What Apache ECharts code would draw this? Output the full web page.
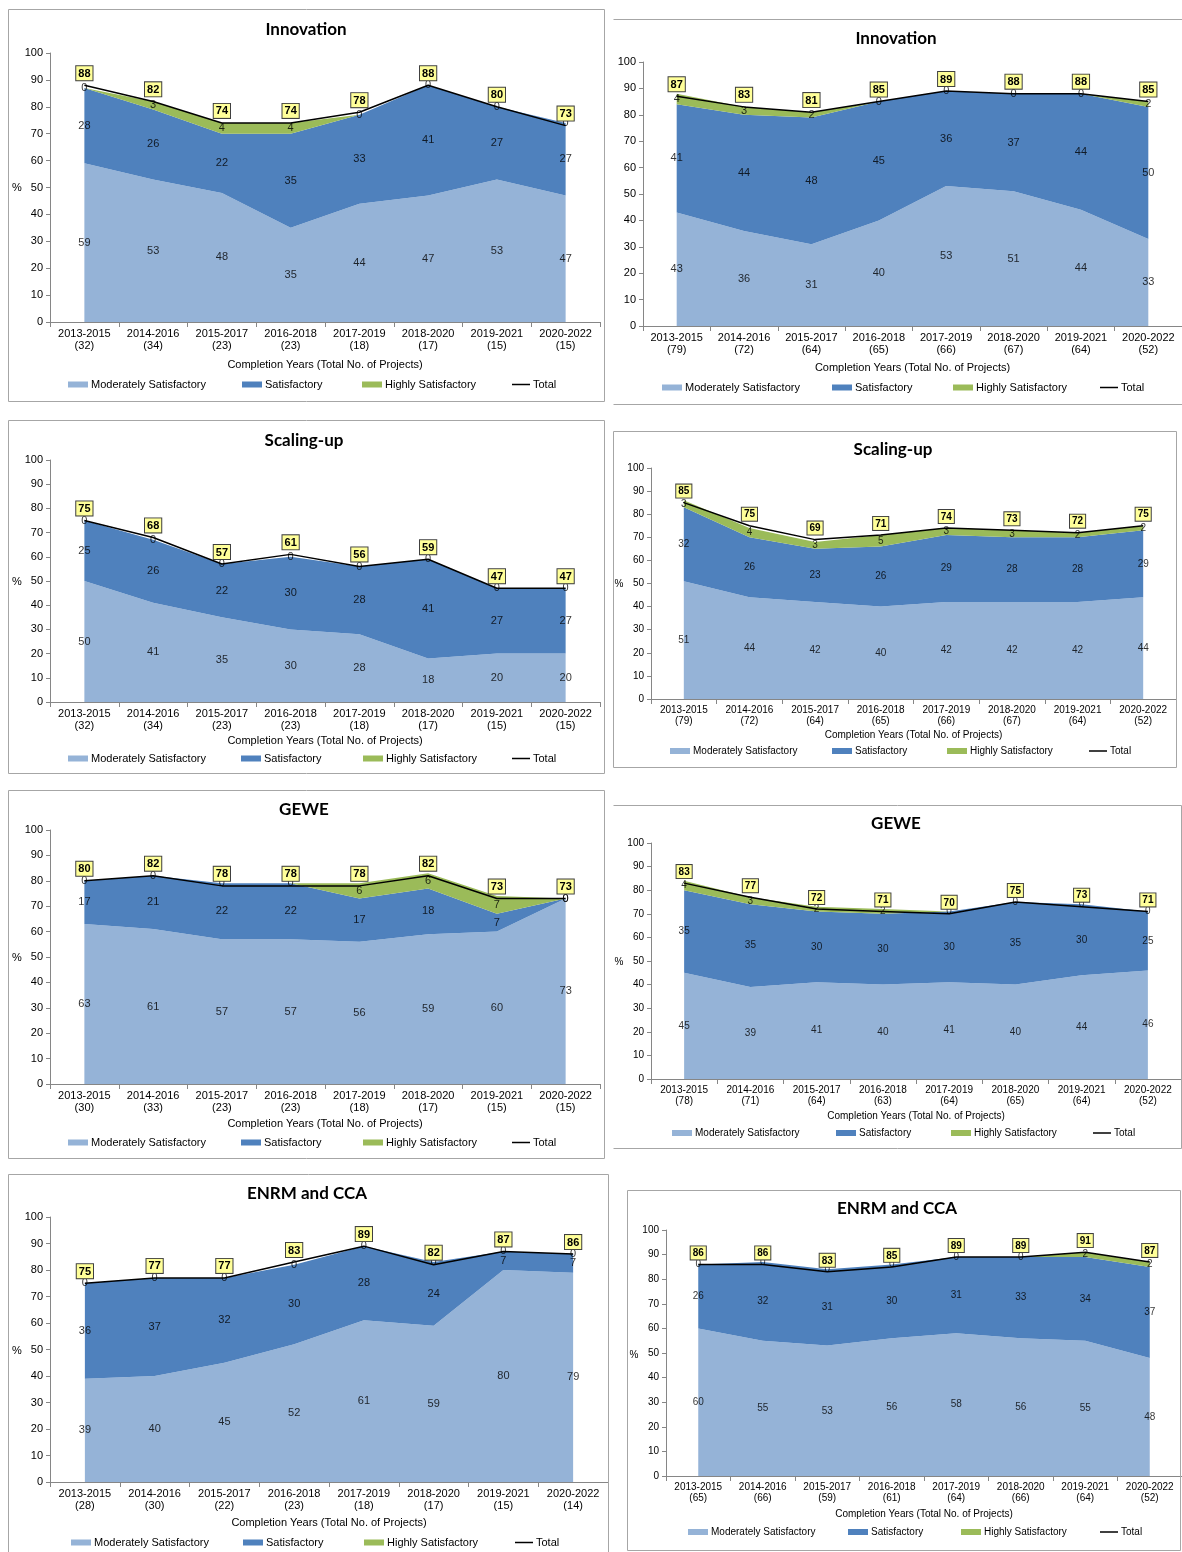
<!DOCTYPE html>
<html><head><meta charset="utf-8">
<script src="https://cdn.jsdelivr.net/npm/echarts@6/dist/echarts.min.js"></script>
<style>html,body{margin:0;padding:0;background:#fff}#c{width:1182px;height:1552px}</style>
</head><body><div id="c"></div>
<script>
// ---------- DATA ----------
const years = ['2013-2015','2014-2016','2015-2017','2016-2018','2017-2019','2018-2020','2019-2021','2020-2022'];
const seriesNames = ['Moderately Satisfactory','Satisfactory','Highly Satisfactory','Total'];
const xAxisTitle = 'Completion Years (Total No. of Projects)';

// Innovation (left)
const innovL_n   = [32,34,23,23,18,17,15,15];
const innovL_ms  = [59,53,48,35,44,47,53,47];
const innovL_s   = [28,26,22,35,33,41,27,27];
const innovL_hs  = [0,3,4,4,0,0,0,0];
const innovL_tot = [88,82,74,74,78,88,80,73];
// Innovation (right)
const innovR_n   = [79,72,64,65,66,67,64,52];
const innovR_ms  = [43,36,31,40,53,51,44,33];
const innovR_s   = [41,44,48,45,36,37,44,50];
const innovR_hs  = [4,3,2,0,0,0,0,2];
const innovR_tot = [87,83,81,85,89,88,88,85];
// Scaling-up (left)
const scaleL_n   = [32,34,23,23,18,17,15,15];
const scaleL_ms  = [50,41,35,30,28,18,20,20];
const scaleL_s   = [25,26,22,30,28,41,27,27];
const scaleL_hs  = [0,0,0,0,0,0,0,0];
const scaleL_tot = [75,68,57,61,56,59,47,47];
// Scaling-up (right)
const scaleR_n   = [79,72,64,65,66,67,64,52];
const scaleR_ms  = [51,44,42,40,42,42,42,44];
const scaleR_s   = [32,26,23,26,29,28,28,29];
const scaleR_hs  = [3,4,3,5,3,3,2,2];
const scaleR_tot = [85,75,69,71,74,73,72,75];
// GEWE (left)
const geweL_n   = [30,33,23,23,18,17,15,15];
const geweL_ms  = [63,61,57,57,56,59,60,73];
const geweL_s   = [17,21,22,22,17,18,7,0];
const geweL_hs  = [0,0,0,0,6,6,7,0];
const geweL_tot = [80,82,78,78,78,82,73,73];
// GEWE (right)
const geweR_n   = [78,71,64,63,64,65,64,52];
const geweR_ms  = [45,39,41,40,41,40,44,46];
const geweR_s   = [35,35,30,30,30,35,30,25];
const geweR_hs  = [4,3,2,2,0,0,0,0];
const geweR_tot = [83,77,72,71,70,75,73,71];
// ENRM and CCA (left)
const enrmL_n   = [28,30,22,23,18,17,15,14];
const enrmL_ms  = [39,40,45,52,61,59,80,79];
const enrmL_s   = [36,37,32,30,28,24,7,7];
const enrmL_hs  = [0,0,0,0,0,0,0,0];
const enrmL_tot = [75,77,77,83,89,82,87,86];
// ENRM and CCA (right)
const enrmR_n   = [65,66,59,61,64,66,64,52];
const enrmR_ms  = [60,55,53,56,58,56,55,48];
const enrmR_s   = [26,32,31,30,31,33,34,37];
const enrmR_hs  = [0,0,0,0,0,0,2,2];
const enrmR_tot = [86,86,83,85,89,89,91,87];

const panelData = [
  {title:'Innovation',   n:innovL_n, ms:innovL_ms, s:innovL_s, hs:innovL_hs, tot:innovL_tot},
  {title:'Innovation',   n:innovR_n, ms:innovR_ms, s:innovR_s, hs:innovR_hs, tot:innovR_tot},
  {title:'Scaling-up',   n:scaleL_n, ms:scaleL_ms, s:scaleL_s, hs:scaleL_hs, tot:scaleL_tot},
  {title:'Scaling-up',   n:scaleR_n, ms:scaleR_ms, s:scaleR_s, hs:scaleR_hs, tot:scaleR_tot},
  {title:'GEWE',         n:geweL_n,  ms:geweL_ms,  s:geweL_s,  hs:geweL_hs,  tot:geweL_tot},
  {title:'GEWE',         n:geweR_n,  ms:geweR_ms,  s:geweR_s,  hs:geweR_hs,  tot:geweR_tot},
  {title:'ENRM and CCA', n:enrmL_n,  ms:enrmL_ms,  s:enrmL_s,  hs:enrmL_hs,  tot:enrmL_tot},
  {title:'ENRM and CCA', n:enrmR_n,  ms:enrmR_ms,  s:enrmR_s,  hs:enrmR_hs,  tot:enrmR_tot}
];

// ---------- LAYOUT / STYLE ----------
const C = {ms:'#95B3D7', s:'#4F81BD', hs:'#9BBB59', tot:'#000000', axis:'#868686', border:'#a6a6a6'};
const FONT = '"Liberation Sans", Arial, sans-serif';
const layout = [
  {x:50, y:53,  w:550, h:269, fs:11, title:[306,30],  box:[8,9,596,392],    leg:[68,242,362,512],  legY:386,  ng:37, pct:[17,188]},
  {x:643,y:62,  w:548, h:264, fs:11, title:[896,39],  lines:[[613,19,1182,19],[613,404,1182,404]], leg:[662,832,953,1100], legY:389, ng:36, pct:null},
  {x:50, y:460, w:550, h:242, fs:11, title:[304,441], box:[8,420,596,353],  leg:[68,241,363,512],  legY:760,  ng:33, pct:[17,582]},
  {x:651,y:468, w:525, h:231, fs:10, title:[893,450], box:[613,431,563,336],leg:[670,832,947,1089],legY:753,  ng:31, pct:[619,584]},
  {x:50, y:830, w:550, h:254, fs:11, title:[304,810], box:[8,790,596,368],  leg:[68,241,363,512],  legY:1144, ng:34, pct:[17,958]},
  {x:651,y:843, w:530, h:236, fs:10, title:[896,824], lines:[[613,805,1181,805],[613,1148,1181,1148],[1181,805,1181,1148]], leg:[672,836,951,1093], legY:1135, ng:32, pct:[619,962]},
  {x:50, y:1217,w:558, h:265, fs:11, title:[307,1194],box:[8,1174,600,380], leg:[71,243,364,515],  legY:1544, ng:35, pct:[17,1351]},
  {x:666,y:1230,w:520, h:246, fs:10, title:[897,1209],box:[627,1190,553,360],leg:[688,848,961,1100],legY:1534, ng:33, pct:[634,1355]}
];

const grids=[], xAxes=[], yAxes=[], series=[], legends=[], graphics=[];
panelData.forEach((d,k)=>{
  const L = layout[k];
  grids.push({left:L.x, top:L.y, width:L.w, height:L.h, containLabel:false});
  xAxes.push({
    type:'category', gridIndex:k, boundaryGap:true,
    data: years.map((y,i)=> y + '\n(' + d.n[i] + ')'),
    axisLine:{lineStyle:{color:C.axis, width:1}},
    axisTick:{show:true, length:5, lineStyle:{color:C.axis}},
    axisLabel:{interval:0, color:'#000', fontSize:L.fs, fontFamily:FONT, lineHeight:L.fs+1, margin:6},
    name:xAxisTitle, nameLocation:'middle', nameGap:L.ng,
    nameTextStyle:{color:'#000', fontSize:L.fs, fontFamily:FONT}
  });
  yAxes.push({
    type:'value', gridIndex:k, min:0, max:100, interval:10,
    axisLine:{show:true, lineStyle:{color:C.axis, width:1}},
    axisTick:{show:true, length:4, lineStyle:{color:C.axis}},
    axisLabel:{color:'#000', fontSize:L.fs, fontFamily:FONT, margin:7},
    splitLine:{show:false}
  });
  const parts = [['Moderately Satisfactory', d.ms, C.ms], ['Satisfactory', d.s, C.s], ['Highly Satisfactory', d.hs, C.hs]];
  parts.forEach(([name, arr, col])=>{
    series.push({
      type:'line', name, xAxisIndex:k, yAxisIndex:k, stack:'st'+k, data:arr,
      symbol:'none', lineStyle:{width:0, color:col}, itemStyle:{color:col},
      areaStyle:{color:col, opacity:1}, silent:true, z:2
    });
  });
  series.push({
    type:'line', name:'Total', xAxisIndex:k, yAxisIndex:k, data:d.tot,
    symbol:'circle', symbolSize:0.1, showSymbol:true,
    lineStyle:{width:1.5, color:C.tot}, itemStyle:{color:C.tot}, z:5,
    label:{show:true, position:'top', distance:5, backgroundColor:'#ffff99', borderColor:'#404040', borderWidth:1,
      padding:[2,2,1,2], color:'#000', fontWeight:'bold', fontSize:L.fs, fontFamily:FONT}
  });
  // segment value labels at the middle of each stacked band
  const lab = [];
  for (let i=0;i<years.length;i++){
    lab.push([i, d.ms[i]/2, d.ms[i]]);
    lab.push([i, d.ms[i] + d.s[i]/2, d.s[i]]);
    lab.push([i, d.ms[i] + d.s[i] + d.hs[i]/2, d.hs[i]]);
  }
  series.push({
    type:'scatter', xAxisIndex:k, yAxisIndex:k, data:lab, symbolSize:1,
    itemStyle:{color:'rgba(0,0,0,0)'}, z:4, silent:true,
    label:{show:true, position:'inside', color:'#000', fontSize:L.fs, fontFamily:FONT, formatter:p=>p.value[2]}
  });
  // legends: one per entry for exact placement
  seriesNames.forEach((nm,j)=>{
    const isTot = nm==='Total';
    legends.push({
      data:[nm], left:L.leg[j], top:L.legY-7, padding:0, itemGap:0, selectedMode:false,
      icon:'rect', itemWidth: isTot?18:20, itemHeight: isTot?1.5:6,
      textStyle:{color:'#000', fontSize:L.fs, fontFamily:FONT, padding:[0,0,0,-2]}
    });
  });
  graphics.push({type:'text', x:L.title[0], y:L.title[1], z:10,
    style:{text:d.title, font:'bold 17px Lato, "Open Sans", sans-serif', fill:'#000', textAlign:'center', textVerticalAlign:'middle'}});
  if (L.pct){
    graphics.push({type:'text', x:L.pct[0], y:L.pct[1], z:10,
      style:{text:'%', font:L.fs+'px '+FONT, fill:'#000', textAlign:'center', textVerticalAlign:'middle'}});
  }
  if (L.box){
    graphics.push({type:'rect', shape:{x:L.box[0]+0.5, y:L.box[1]+0.5, width:L.box[2], height:L.box[3]},
      style:{fill:'none', stroke:C.border, lineWidth:1}, z:10});
  }
  if (L.lines){
    L.lines.forEach(l=>graphics.push({type:'line', shape:{x1:l[0]+0.5, y1:l[1]+0.5, x2:l[2]+0.5, y2:l[3]+0.5},
      style:{stroke:C.border, lineWidth:1}, z:10}));
  }
});

const chart = echarts.init(document.getElementById('c'), null, {renderer:'canvas', width:1182, height:1552});
chart.setOption({
  animation:false, backgroundColor:'#fff',
  grid:grids, xAxis:xAxes, yAxis:yAxes, series, legend:legends, graphic:graphics
});
</script>
</body></html>
